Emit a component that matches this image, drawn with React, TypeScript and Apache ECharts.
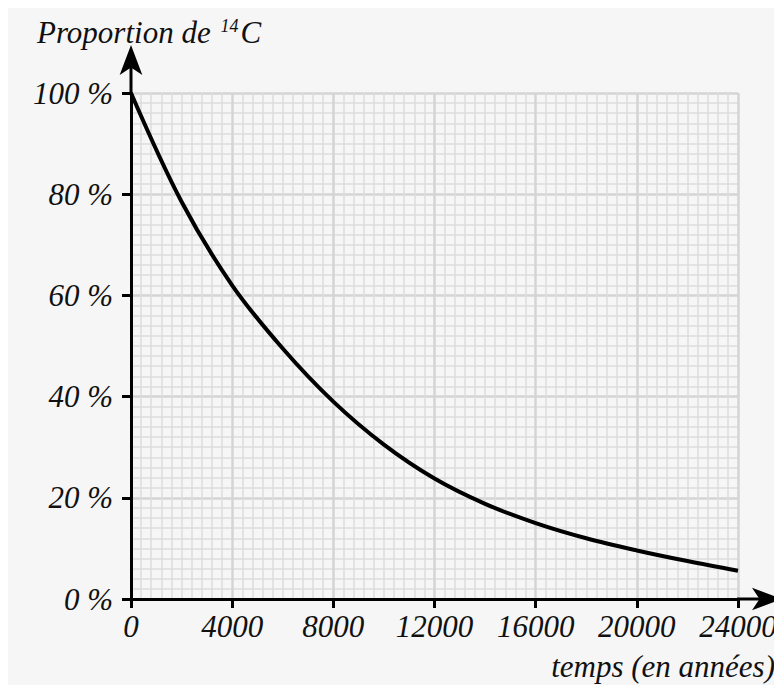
import React, { useEffect, useRef } from "react";
import * as echarts from "echarts";

const years = [0, 2000, 4000, 6000, 8000, 10000, 12000, 14000, 16000, 18000, 20000, 22000, 24000];
const proportion = [100, 78.5, 62, 49.5, 39, 30.5, 23.8, 18.8, 15, 12, 9.6, 7.5, 5.6];
const yTitle = "Proportion de ";
const ySup = "14";
const yTitleEnd = "C";
const xTitle = "temps (en années)";

const FONT = "Liberation Serif";
const FS = 31;

export default function App() {
  const ref = useRef<HTMLDivElement>(null);
  useEffect(() => {
    document.body.style.overflow = "hidden";
    const chart = echarts.init(ref.current!, null, { renderer: "svg" });
    const gridLeft = 123;
    const gridTop = 85;
    const gridW = 607;
    const gridH = 506;
    const labelStyle = { fontFamily: FONT, fontStyle: "italic" as const, fontSize: FS, color: "#111" };
    chart.setOption({
      animation: false,
      backgroundColor: "#f6f6f6",
      grid: { left: gridLeft, top: gridTop, width: gridW, height: gridH },
      xAxis: {
        type: "value",
        min: 0,
        max: 24000,
        interval: 4000,
        axisLine: {
          show: true,
          onZero: false,
          symbol: ["none", "arrow"],
          symbolSize: [17, 30],
          symbolOffset: [0, 44],
          lineStyle: { color: "#000", width: 3 },
        },
        axisTick: { show: true, length: 9, lineStyle: { color: "#000", width: 3 } },
        axisLabel: { ...labelStyle, margin: 12, formatter: (v: number) => String(v) },
        splitLine: { show: true, lineStyle: { color: "#d4d4d4", width: 2.5 } },
        minorTick: { show: false, splitNumber: 10 },
        minorSplitLine: { show: true, lineStyle: { color: "#dcdcdc", width: 1.5 } },
      },
      yAxis: {
        type: "value",
        min: 0,
        max: 100,
        interval: 20,
        axisLine: {
          show: true,
          onZero: false,
          symbol: ["none", "arrow"],
          symbolSize: [17, 30],
          symbolOffset: [0, 48],
          lineStyle: { color: "#000", width: 3 },
        },
        axisTick: { show: true, length: 9, lineStyle: { color: "#000", width: 3 } },
        axisLabel: { ...labelStyle, margin: 18, formatter: (v: number) => v + " %" },
        splitLine: { show: true, lineStyle: { color: "#d4d4d4", width: 2.5 } },
        minorTick: { show: false, splitNumber: 10 },
        minorSplitLine: { show: true, lineStyle: { color: "#dcdcdc", width: 1.5 } },
      },
      graphic: [
        {
          type: "line",
          z: 10,
          shape: { x1: gridLeft, y1: gridTop + 1, x2: gridLeft, y2: gridTop - 42 },
          style: { stroke: "#000", lineWidth: 3 },
        },
        {
          type: "line",
          z: 10,
          shape: { x1: gridLeft + gridW - 1, y1: gridTop + gridH, x2: gridLeft + gridW + 38, y2: gridTop + gridH },
          style: { stroke: "#000", lineWidth: 3 },
        },
        {
          type: "text",
          left: 29,
          top: 6,
          style: {
            text: `{a|${yTitle}}{s|${ySup}}{a|${yTitleEnd}}`,
            rich: {
              a: { fontFamily: FONT, fontStyle: "italic", fontSize: FS, lineHeight: 36, fill: "#111" },
              s: { fontFamily: FONT, fontStyle: "italic", fontSize: 18, lineHeight: 18, verticalAlign: "top", fill: "#111", padding: [3, 2, 0, 2] },
            },
          },
        },
        {
          type: "text",
          right: 7,
          top: 643,
          style: { text: xTitle, fontFamily: FONT, fontStyle: "italic", fontSize: FS, fill: "#111" },
        },
      ],
      series: [
        {
          type: "line",
          data: years.map((x, i) => [x, proportion[i]]),
          smooth: 0.35,
          showSymbol: false,
          lineStyle: { color: "#000", width: 4 },
          z: 5,
        },
      ],
    });
    return () => chart.dispose();
  }, []);
  return <div ref={ref} style={{ width: 774, height: 677 }} />;
}
